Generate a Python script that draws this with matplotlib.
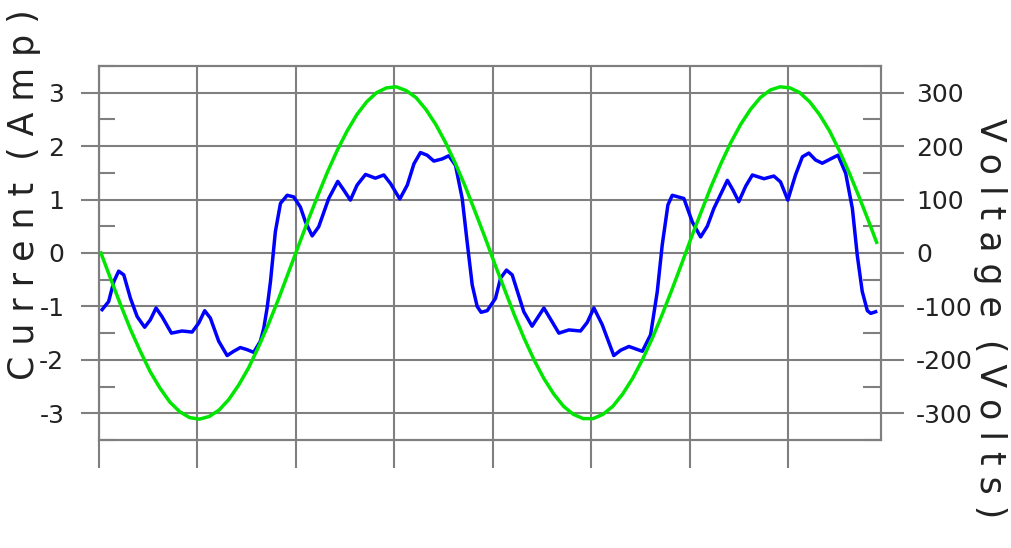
import matplotlib
matplotlib.use("Agg")
import matplotlib.pyplot as plt
from matplotlib.ticker import MultipleLocator, NullFormatter

# time in ms, current in A (blue), voltage in V (green)
cur_t = [0.16, 0.49, 0.75, 1.00, 1.26, 1.60, 1.94, 2.32, 2.61, 2.90, 3.20, 3.68, 4.22, 4.73,
         5.07, 5.37, 5.66, 6.08, 6.51, 6.84, 7.18, 7.53, 7.86, 8.20, 8.37, 8.54, 8.71, 8.96,
         9.22, 9.56, 9.89, 10.23, 10.49, 10.83, 11.16, 11.67, 12.13, 12.43, 12.77, 13.11,
         13.54, 14.04, 14.47, 14.81, 15.28, 15.66, 16.00, 16.33, 16.67, 17.01, 17.43, 17.77,
         18.11, 18.45, 18.70, 18.96, 19.21, 19.41, 19.72,
         20.14, 20.40, 20.70, 20.99, 21.58, 22.00, 22.60, 23.36, 23.87, 24.46, 24.80, 25.14,
         25.56, 26.15, 26.50, 26.92, 27.30, 27.60, 28.02, 28.36, 28.61, 28.90, 29.12, 29.71,
         30.14, 30.56, 30.90, 31.23, 31.92, 32.20, 32.50, 32.85, 33.19, 33.78, 34.28, 34.62,
         34.99, 35.38, 35.73, 36.06, 36.40, 36.74, 37.16, 37.54, 37.93, 38.27, 38.52, 38.77,
         39.03, 39.20, 39.45]
cur_a = [-1.06, -0.91, -0.54, -0.34, -0.41, -0.85, -1.19, -1.39, -1.25, -1.03, -1.19, -1.50,
         -1.46, -1.48, -1.31, -1.08, -1.22, -1.65, -1.92, -1.84, -1.77, -1.81, -1.86, -1.65,
         -1.41, -1.03, -0.54, 0.40, 0.93, 1.08, 1.05, 0.86, 0.58, 0.32, 0.49, 1.02, 1.34, 1.18,
         0.99, 1.27, 1.47, 1.40, 1.46, 1.30, 1.01, 1.27, 1.67, 1.88, 1.83, 1.72, 1.76, 1.82,
         1.64, 1.02, 0.21, -0.60, -1.00, -1.11, -1.08,
         -0.85, -0.47, -0.32, -0.41, -1.10, -1.37, -1.03, -1.50, -1.44, -1.46, -1.30, -1.03,
         -1.34, -1.92, -1.82, -1.75, -1.80, -1.84, -1.53, -0.72, 0.15, 0.90, 1.08, 1.02,
         0.58, 0.30, 0.50, 0.83, 1.36, 1.18, 0.96, 1.25, 1.46, 1.39, 1.44, 1.33,
         0.99, 1.46, 1.80, 1.87, 1.74, 1.68, 1.76, 1.83, 1.49, 0.83, -0.05, -0.72,
         -1.08, -1.13, -1.10]

volt_t = [0.1, 0.6, 1.1, 1.6, 2.1, 2.6, 3.1, 3.6, 4.1, 4.6, 5.1, 5.6, 6.1, 6.6, 7.1, 7.6,
          8.1, 8.6, 9.1, 9.6, 10.1, 10.6, 11.1, 11.6, 12.1, 12.6, 13.1, 13.6, 14.1, 14.6,
          15.1, 15.6, 16.1, 16.6, 17.1, 17.6, 18.1, 18.6, 19.1, 19.6, 20.1, 20.6, 21.1, 21.6,
          22.1, 22.6, 23.1, 23.6, 24.1, 24.6, 25.1, 25.6, 26.1, 26.6, 27.1, 27.6, 28.1, 28.6,
          29.1, 29.6, 30.1, 30.6, 31.1, 31.6, 32.1, 32.6, 33.1, 33.6, 34.1, 34.6, 35.1, 35.6,
          36.1, 36.6, 37.1, 37.6, 38.1, 38.6, 39.1, 39.5]
volt_v = [0, -49, -97, -143, -184, -222, -253, -279, -297, -308, -311, -306, -294, -274,
          -247, -215, -176, -134, -88, -39, 10, 59, 106, 151, 192, 228, 259, 283, 300, 309,
          311, 304, 291, 269, 241, 207, 168, 125, 78, 30, -20, -68, -116, -160, -200, -235,
          -264, -287, -302, -310, -310, -302, -287, -264, -235, -200, -160, -116, -69, -20,
          30, 78, 125, 168, 207, 241, 269, 291, 305, 311, 309, 300, 283, 259, 229, 192, 151,
          106, 59, 20]

plt.rcParams["axes.unicode_minus"] = False

grey = "#7f7f7f"
txt = "#222222"

fig = plt.figure(figsize=(10.12, 5.48), dpi=100)
ax = fig.add_axes([0.0978, 0.1971, 0.7723, 0.6825])
ax.plot(cur_t, cur_a, color="#0000ff", lw=2.5, solid_joinstyle="round")
ax.set_xlim(0, 39.7)
ax.set_ylim(-3.5, 3.5)
ax.xaxis.set_major_locator(MultipleLocator(5))
ax.yaxis.set_major_locator(MultipleLocator(1))
ax.yaxis.set_minor_locator(MultipleLocator(0.5))
ax.yaxis.set_minor_formatter(NullFormatter())
ax.grid(True, which="major", color=grey, lw=1.5)
ax.tick_params(axis="x", direction="out", length=20, width=1.5, color=grey, labelbottom=False)
ax.tick_params(axis="y", which="major", direction="out", length=13, width=1.5, color=grey,
               pad=12, labelsize=18, labelcolor=txt)
ax.tick_params(axis="y", which="minor", direction="in", length=11.5, width=1.5, color=grey)
for s in ax.spines.values():
    s.set_color(grey)
    s.set_linewidth(1.5)

ax2 = ax.twinx()
ax2.plot(volt_t, volt_v, color="#00e600", lw=2.5, solid_joinstyle="round")
ax2.set_ylim(-350, 350)
ax2.yaxis.set_major_locator(MultipleLocator(100))
ax2.yaxis.set_minor_locator(MultipleLocator(50))
ax2.yaxis.set_minor_formatter(NullFormatter())
ax2.tick_params(axis="y", which="major", direction="out", length=16.5, width=1.5, color=grey,
                pad=9, labelsize=18, labelcolor=txt)
ax2.tick_params(axis="y", which="minor", direction="in", length=13, width=1.5, color=grey)
for s in ax2.spines.values():
    s.set_color(grey)
    s.set_linewidth(1.5)

fig.text(24 / 1012, 1 - 380 / 548, "C u r r e n t  ( A m p )", rotation=90,
         ha="center", va="bottom", fontsize=25, color=txt)
fig.text(990 / 1012, 1 - 118 / 548, "V o l t a g e  ( V o l t s )", rotation=-90,
         ha="center", va="top", fontsize=25, color=txt)

fig.savefig("out.png", dpi=100)
